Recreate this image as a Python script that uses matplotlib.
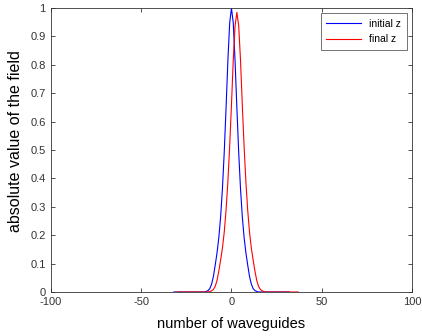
import numpy as np
import matplotlib
matplotlib.use('Agg')
import matplotlib.pyplot as plt

# waveguide index and field amplitude
n_initial = np.arange(-32, 33)
half_initial = [1.0, 0.947, 0.813, 0.648, 0.493, 0.365, 0.266, 0.192, 0.138,
                0.095, 0.055, 0.028, 0.012, 0.005, 0.002, 0.0]
n_final = np.arange(-30, 38)
half_final = [0.985, 0.938, 0.818, 0.659, 0.513, 0.387, 0.288, 0.211, 0.155,
              0.113, 0.074, 0.041, 0.020, 0.009, 0.004, 0.0015, 0.0]

def table(n, center, half):
    vals = []
    for k in n:
        d = abs(k - center)
        vals.append(half[d] if d < len(half) else 0.0)
    return vals

field_initial = table(n_initial, 0, half_initial)
field_final = table(n_final, 3, half_final)

plt.rcParams['font.family'] = ['Liberation Sans', 'DejaVu Sans']
plt.rcParams['axes.unicode_minus'] = False

fig = plt.figure(figsize=(4.22, 3.36), dpi=100)
ax = fig.add_axes([0.121, 0.131, 0.855, 0.845])
ax.plot(n_initial, field_initial, color='#0000ff', lw=0.8, label='initial z')
ax.plot(n_final, field_final, color='#ff0000', lw=0.8, label='final z')

ax.set_xlim(-100, 100)
ax.set_ylim(0, 1)
ax.set_xticks([-100, -50, 0, 50, 100])
ax.set_yticks(np.arange(0, 1.01, 0.1))
ax.set_yticklabels(['0', '0.1', '0.2', '0.3', '0.4', '0.5', '0.6', '0.7', '0.8', '0.9', '1'])
ax.tick_params(direction='in', length=3, width=0.6, labelsize=8, top=True, right=True,
               colors='#333333')
ax.tick_params(axis='x', pad=3.5)
ax.tick_params(axis='y', pad=4)
for s in ax.spines.values():
    s.set_linewidth(0.6)
    s.set_color('#333333')

ax.set_xlabel('number of waveguides', fontsize=10.5, labelpad=7)
ax.set_ylabel('absolute value of the field', fontsize=11.5)
ax.yaxis.set_label_coords(-0.077, 0.53)

leg = ax.legend(loc='upper right', fontsize=7.5, frameon=True, fancybox=False,
                handlelength=3.3, borderaxespad=0.5, borderpad=0.55, labelspacing=0.5)
leg.get_frame().set_edgecolor('#333333')
leg.get_frame().set_linewidth(0.6)

fig.savefig('out.png', dpi=100)
